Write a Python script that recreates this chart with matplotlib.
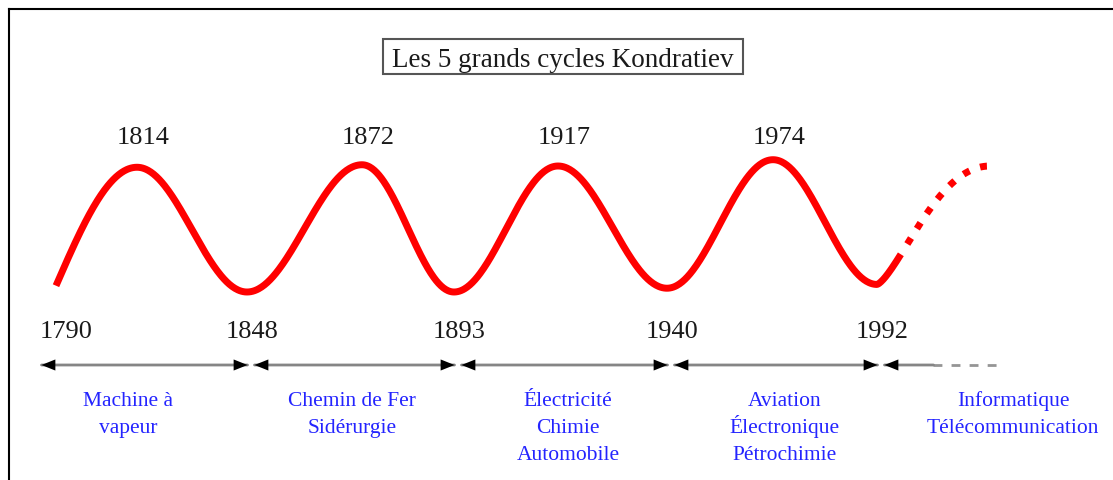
import numpy as np
import matplotlib
matplotlib.use("Agg")
import matplotlib.pyplot as plt
from matplotlib.lines import Line2D
from matplotlib.patches import Rectangle
from matplotlib.transforms import offset_copy

plt.rcParams['font.family'] = ['Liberation Serif', 'DejaVu Serif']

# turning points of the long waves: year and relative level (0 = trough, 1 = peak)
turn_years = [1790, 1814, 1848, 1872, 1893, 1917, 1940, 1974, 1992]
turn_levels = [0.05, 0.99, 0.0, 1.01, 0.0, 1.0, 0.03, 1.05, 0.06]

# next wave, only sketched
future_year = 2020
future_level = 1.0
future_solid_until = 1998

peak_years = turn_years[1::2]
bound_years = turn_years[0::2]

eras = ["Machine à\nvapeur",
        "Chemin de Fer\nSidérurgie",
        "Électricité\nChimie\nAutomobile",
        "Aviation\nÉlectronique\nPétrochimie",
        "Informatique\nTélécommunication"]

title = "Les 5 grands cycles Kondratiev"

# ---- layout (pixels of a 1113x481 canvas) ----
W, H = 1113, 481
pos_years = turn_years + [future_year]
pos_px = [56, 137, 247, 362, 454, 558, 667, 773, 877, 990]
era_px = [128, 352, 568, 785, 1013]
arrow_end_years = (2005, 2022)   # where the last arrow turns dashed / stops


def to_px(x):
    x = np.asarray(x, dtype=float)
    out = np.interp(x, pos_years, pos_px)
    out = np.where(x < pos_years[0], pos_px[0] + (x - pos_years[0]) * 3.4, out)
    out = np.where(x > pos_years[-1], pos_px[-1] + (x - pos_years[-1]) * 4.0, out)
    return out


def from_px(p):
    p = np.asarray(p, dtype=float)
    out = np.interp(p, pos_px, pos_years)
    out = np.where(p < pos_px[0], pos_years[0] + (p - pos_px[0]) / 3.4, out)
    out = np.where(p > pos_px[-1], pos_years[-1] + (p - pos_px[-1]) / 4.0, out)
    return out


fig = plt.figure(figsize=(W / 100, H / 100), dpi=100)
ax = fig.add_axes([0, 0, 1, 1])
ax.set_xscale('function', functions=(to_px, from_px))
ax.set_xlim(float(from_px(0)), float(from_px(W)))
# level 0 sits at pixel row 293, level 1 at row 167
unit = 126.0
ax.set_ylim((293 - H) / unit, 293 / unit)
ax.axis('off')


def row(px):
    return (293 - px) / unit


# ---- the wave ----
xs, ys = [], []
for i in range(len(turn_years) - 1):
    a, b = turn_years[i], turn_years[i + 1]
    la, lb = turn_levels[i], turn_levels[i + 1]
    t = np.linspace(a, b, 120)
    s = (t - a) / (b - a)
    f = np.sin(np.pi / 2 * s) if i == 0 else (1 - np.cos(np.pi * s)) / 2
    xs.append(t)
    ys.append(la + (lb - la) * f)

t = np.linspace(turn_years[-1], future_year, 200)
s = (t - turn_years[-1]) / (future_year - turn_years[-1])
lf = turn_levels[-1] + (future_level - turn_levels[-1]) * (1 - np.cos(np.pi * s ** 0.7)) / 2
solid = t <= future_solid_until
xs.append(t[solid])
ys.append(lf[solid])

ax.plot(np.concatenate(xs), np.concatenate(ys), color='red', lw=5.0,
        solid_capstyle='butt', solid_joinstyle='round')
ax.plot(t[~solid], lf[~solid], color='red', lw=5.0,
        linestyle=(1.0, (1.0, 1.6)), dash_capstyle='butt')

# ---- year labels ----
for yr in peak_years:
    ax.annotate(str(yr), xy=(yr, row(144)), xytext=(6, 0),
                textcoords='offset pixels', ha='center', va='baseline',
                fontsize=19, color='#1a1a1a')
for yr in bound_years:
    dx = 10 if yr == bound_years[0] else 5
    ax.annotate(str(yr), xy=(yr, row(338)), xytext=(dx, 0),
                textcoords='offset pixels', ha='center', va='baseline',
                fontsize=19, color='#1a1a1a')

# ---- arrows between the boundary years ----
ya = row(366)
T = offset_copy(ax.transData, fig=fig, x=4, y=0, units='dots')
T_first = offset_copy(ax.transData, fig=fig, x=-18, y=0, units='dots')
head = '<|-|>,head_length=1.0,head_width=0.4'
spans = list(zip(bound_years[:-1], bound_years[1:]))
for k, (a, b) in enumerate(spans):
    tc = T_first if k == 0 else T
    ax.annotate('', xy=(b, ya), xycoords=T, xytext=(a, ya), textcoords=tc,
                arrowprops=dict(arrowstyle='-', color='#858585', lw=2.0,
                                shrinkA=2.5, shrinkB=2.5))
    ax.annotate('', xy=(b, ya), xycoords=T, xytext=(a, ya), textcoords=tc,
                arrowprops=dict(arrowstyle=head, fc='black', ec='none', lw=0,
                                shrinkA=2.5, shrinkB=2.5, mutation_scale=10))

last = bound_years[-1]
ax.annotate('', xy=(arrow_end_years[0], ya), xycoords=T, xytext=(last, ya), textcoords=T,
            arrowprops=dict(arrowstyle='-', color='#858585', lw=2.0,
                            shrinkA=2.5, shrinkB=0))
ax.annotate('', xy=(arrow_end_years[0], ya), xycoords=T, xytext=(last, ya), textcoords=T,
            arrowprops=dict(arrowstyle='<|-,head_length=1.0,head_width=0.4', fc='black',
                            ec='none', lw=0, shrinkA=2.5, shrinkB=0, mutation_scale=10))
ax.plot(arrow_end_years, [ya, ya], transform=T, color='#959595', lw=2.0,
        dashes=(3.2, 3.3), dash_capstyle='butt')

# ---- era labels, one text per line so accents do not change the spacing ----
line_gap = 27
for x, txt in zip(era_px, eras):
    for j, line in enumerate(txt.split('\n')):
        fig.text(x / W, 1 - (406 + j * line_gap) / H, line, ha='center', va='baseline',
                 fontsize=15.5, color='#2424ff')

# ---- title box and frame ----
fig.add_artist(Rectangle((383 / W, 1 - 75 / H), 360 / W, 35 / H, transform=fig.transFigure,
                         facecolor='white', edgecolor='#555555', lw=1.5))
fig.text(563 / W, 1 - 67 / H, title, ha='center', va='baseline', fontsize=19.5,
         color='#1a1a1a')
fig.add_artist(Line2D([8.5 / W, 8.5 / W], [0, 1 - 10 / H], transform=fig.transFigure,
                      color='black', lw=1.5))
fig.add_artist(Line2D([8.5 / W, 1], [1 - 10 / H, 1 - 10 / H], transform=fig.transFigure,
                      color='black', lw=1.5))

fig.savefig('out.png', dpi=100)
